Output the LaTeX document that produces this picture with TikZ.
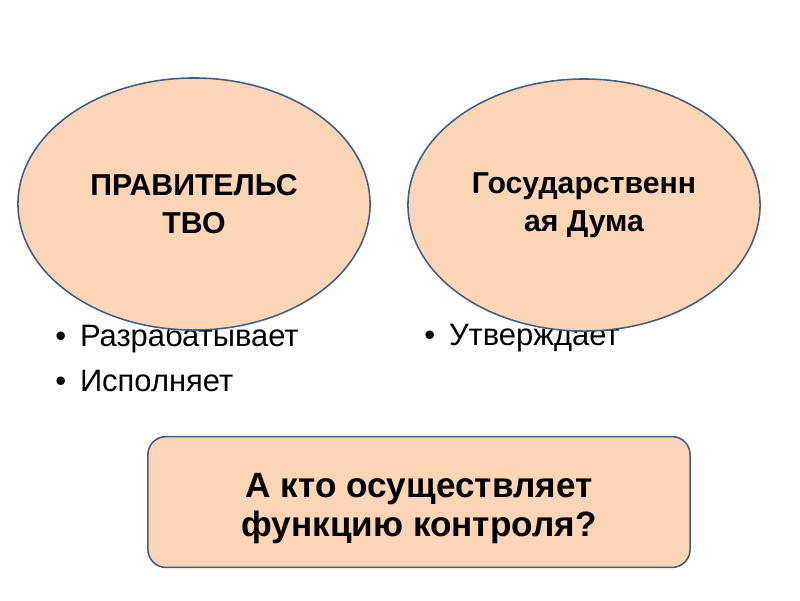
\documentclass[tikz,border=0pt]{standalone}
\usepackage{fontspec}
\setmainfont{Liberation Sans}
\usetikzlibrary{shapes.geometric,positioning}
\definecolor{peach}{HTML}{FBD5B5}
\definecolor{rim}{HTML}{3E5D89}
\tikzset{
  blob/.style={ellipse,draw=rim,fill=peach,line width=1.1pt,inner sep=0pt,
    minimum width=8.8cm,minimum height=6.3cm,align=center,
    font=\bfseries\fontsize{21.5}{27}\selectfont},
  item/.style={anchor=west,inner sep=0pt,font=\fontsize{22}{24}\selectfont},
  question/.style={draw=rim,fill=peach,line width=1.1pt,rounded corners=0.45cm,
    minimum width=13.55cm,minimum height=3.27cm},
  asktext/.style={align=center,inner sep=0pt,
    font=\bfseries\fontsize{25}{27.5}\selectfont}
}
\begin{document}
\begin{tikzpicture}[x=0.025cm,y=-0.025cm]
  \useasboundingbox[fill=white] (0,0) rectangle (800,600);
  % bullet lists first, the ellipses lie over them
  \node[item] (develops) at (55,338) {\textbullet\hspace{0.45em}Разрабатывает};
  \node[item] (executes) at (55,381) {\textbullet\hspace{0.45em}Исполняет};
  \node[item] (approves) at (424,338) {\textbullet\hspace{0.45em}Утверждает};
  % the two bodies
  \node[blob] (gov) at (194,204) {ПРАВИТЕЛЬС\\ТВО};
  \node[blob] (duma) at (584,205) {Государственн\\ая Дума};
  % question box
  \node[question] (control) at (419,502) {};
  \node[asktext] (ask) at ([yshift=-0.17cm]control.center) {А кто осуществляет\\функцию контроля?};
\end{tikzpicture}
\end{document}
